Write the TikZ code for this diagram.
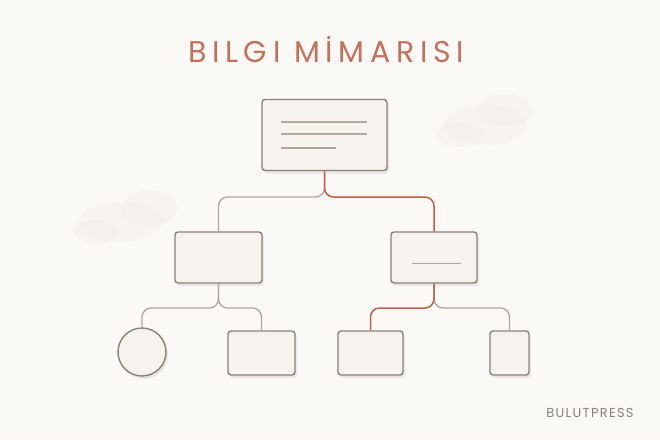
\documentclass[tikz,border=0pt]{standalone}
\usepackage{fontspec}
\setmainfont{Poppins}
\newfontfamily\titlefont[LetterSpace=19]{Poppins}
\newfontfamily\brandfont[LetterSpace=10]{Poppins}
\usetikzlibrary{shadows,calc}
\definecolor{bgc}{HTML}{FBF9F6}
\definecolor{boxline}{HTML}{8A7F78}
\definecolor{boxfill}{HTML}{F6F2EE}
\definecolor{linkc}{HTML}{ADA49D}
\definecolor{redc}{HTML}{C25F4B}
\definecolor{titlec}{HTML}{C4705C}
\definecolor{brandc}{HTML}{8A817A}
\definecolor{innerc}{HTML}{B3A69D}
\definecolor{cloudc}{HTML}{EFEAE5}
\tikzset{
  card/.style={draw=boxline, line width=1.4pt, fill=boxfill, rounded corners=3pt, inner sep=0pt,
    drop shadow={shadow xshift=2pt, shadow yshift=-3pt, opacity=0.12, fill=black!60}},
  roundcard/.style={card, circle, rounded corners=0pt},
  link/.style={draw=linkc, line width=1.3pt, rounded corners=9pt},
  hot/.style={draw=redc, line width=1.5pt, rounded corners=9pt},
  inner/.style={draw=innerc, line width=1.1pt},
}
\begin{document}
\begin{tikzpicture}[x=1pt,y=-1pt]
\fill[bgc] (0,0) rectangle (660,440);
\useasboundingbox (0,0) rectangle (660,440);
% faint clouds
\begin{scope}[fill=cloudc, opacity=0.3]
\fill (120,222) ellipse (42 and 20);
\fill (150,208) ellipse (28 and 18);
\fill (95,232) ellipse (22 and 12);
\fill (485,125) ellipse (42 and 20);
\fill (505,110) ellipse (28 and 16);
\fill (460,135) ellipse (24 and 12);
\end{scope}
% title
\node[text=titlec, font=\titlefont\fontsize{30}{32}\selectfont] (title) at (326,50) {BILGI MİMARISI};
\node[text=brandc, font=\brandfont\fontsize{13}{15}\selectfont] (brand) at (590,413) {BULUTPRESS};
% nodes
\node[card, minimum width=125pt, minimum height=71pt] (top) at (324.5,135) {};
\node[card, minimum width=87pt, minimum height=51pt] (lm) at (218.5,257.5) {};
\node[card, minimum width=86pt, minimum height=51pt] (rm) at (434,257.5) {};
\node[roundcard, minimum size=48pt] (circ) at (142,352) {};
\node[card, minimum width=67pt, minimum height=44pt] (lr) at (261.5,353) {};
\node[card, minimum width=65pt, minimum height=44pt] (rl) at (370.5,353) {};
\node[card, minimum width=39pt, minimum height=44pt] (rr) at (509.5,353) {};
% inner lines
\draw[inner] ($(top.west)+(20,-13)$) -- ($(top.east)+(-21,-13)$);
\draw[inner] ($(top.west)+(20,-1)$) -- ($(top.east)+(-21,-1)$);
\draw[inner] ($(top.west)+(20,13)$) -- ($(top.west)+(75,13)$);
\draw[inner] ($(rm.west)+(22,6)$) -- ($(rm.east)+(-17,6)$);
% junctions
\coordinate (j1) at (324.5,197);
\coordinate (j2) at (218.5,308);
\coordinate (j3) at (434,308);
% connectors
\draw[link] (top.south) -- (j1) -| (lm.north);
\draw[link] (lm.south) -- (j2) -| (circ.north);
\draw[link] (lm.south) -- (j2) -| (lr.north);
\draw[link] (rm.south) -- (j3) -| (rr.north);
\draw[hot] (top.south) -- (j1) -| (rm.north);
\draw[hot] (rm.south) -- (j3) -| (rl.north);
\end{tikzpicture}
\end{document}
